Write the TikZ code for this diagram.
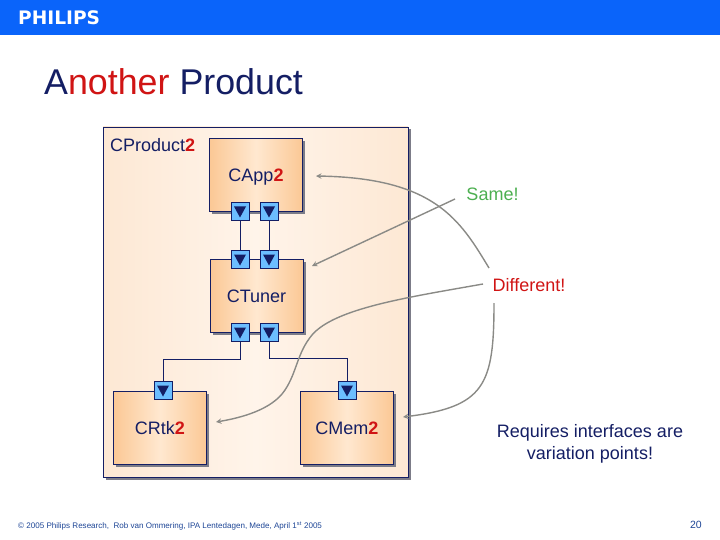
\documentclass[tikz,border=0pt]{standalone}
\usepackage{fontspec}
\setmainfont{Liberation Sans}
\newfontfamily\logofont{DejaVu Sans}
\usetikzlibrary{calc,shadows}

\definecolor{navy}{HTML}{141E64}
\definecolor{hilite}{HTML}{D01414}
\definecolor{okgreen}{HTML}{4CAF50}
\definecolor{barblue}{HTML}{0A64FA}
\definecolor{portblue}{HTML}{6CBEFF}
\definecolor{footblue}{HTML}{1E4696}
\definecolor{notegray}{HTML}{8A8A86}
\definecolor{shadowgray}{HTML}{7C7C88}
\definecolor{prodside}{HTML}{FDE8D4}
\definecolor{prodmid}{HTML}{FFF4EA}
\definecolor{compside}{HTML}{FBC895}
\definecolor{compmid}{HTML}{FFE8D0}

\tikzset{
    product/.style={draw=navy, line width=0.9pt, minimum width=305pt, minimum height=350pt,
        left color=prodside, right color=prodside, middle color=prodmid,
        drop shadow={shadow xshift=2.5pt, shadow yshift=-2.5pt, fill=shadowgray, opacity=1}},
    comp/.style={draw=navy, line width=0.9pt, minimum width=93pt, minimum height=73pt, text=navy,
        font=\fontsize{18}{22}\selectfont, text height=13pt, text depth=0pt,
        left color=compside, right color=compside, middle color=compmid,
        drop shadow={shadow xshift=2.5pt, shadow yshift=-2.5pt, fill=shadowgray, opacity=1}},
    port/.style={draw=navy, line width=0.8pt, fill=portblue, minimum size=18pt, inner sep=0pt,
        path picture={\fill[navy] ($(path picture bounding box.center)+(-6,-4.5)$) -- ++(12,0) -- ++(-6,11) -- cycle;}},
    wire/.style={draw=navy, line width=0.9pt},
    note/.style={-stealth, draw=notegray, line width=1.4pt},
    label/.style={font=\fontsize{18}{22}\selectfont, inner sep=0pt}
}

\newcommand{\two}{\textcolor{hilite}{\textbf{2}}}

\begin{document}
\begin{tikzpicture}[x=1pt, y=-1pt]
    \useasboundingbox (0,0) rectangle (720,540);
    \fill[barblue] (0,0) rectangle (720,35);
    \node[anchor=west, inner sep=0pt, text=white, font=\fontsize{18.6}{22}\selectfont\logofont\bfseries] (logo) at (18,17.5) {PHILIPS};
    \node[anchor=base west, inner sep=0pt, text=navy, font=\fontsize{35.8}{40}\selectfont] (title) at (44,95) {A\textcolor{hilite}{nother} Product};

    % components
    \node[product] (prod) at (255.5,302) {};
    \node[label, anchor=west, text=navy] (prodlabel) at (110,145) {CProduct\two};
    \node[comp] (app) at (256,175) {CApp\two};
    \node[comp] (tuner) at (256.5,296) {CTuner};
    \node[comp] (rtk) at (160,427.5) {CRtk\two};
    \node[comp] (mem) at (347,427.5) {CMem\two};

    % wires
    \node[port] (appa) at (240,211) {};
    \node[port] (appb) at (269,211) {};
    \node[port] (tunina) at (240,259) {};
    \node[port] (tuninb) at (269,259) {};
    \node[port] (tunouta) at (240,332) {};
    \node[port] (tunoutb) at (269,332) {};
    \node[port] (rtkin) at (163,390) {};
    \node[port] (memin) at (347,390) {};

    \draw[wire] (appa) -- (tunina);
    \draw[wire] (appb) -- (tuninb);
    \draw[wire] (tunouta.south) -- ++(0,18) -| (rtkin.north);
    \draw[wire] (tunoutb.south) -- ++(0,17) -| (memin.north);

    % notes
    \node[label, text=okgreen] (same) at (492.5,194.5) {Same!};
    \node[label, text=hilite] (diff) at (529,285) {Different!};
    \node[label, text=navy, align=center] (req) at (590,443.5) {Requires interfaces are\\variation points!};

    \coordinate (samefrom) at (455,199);
    \coordinate (sameto) at (312,266);
    \coordinate (diffa) at (489,268);
    \coordinate (diffb) at (483,284);
    \coordinate (diffc) at (494,303);
    \coordinate (appto) at (316,176);
    \coordinate (rtkto) at (216,422);
    \coordinate (memto) at (403,417);

    \draw[note] (samefrom) -- (sameto);
    \draw[note] (diffa) .. controls (460,220) and (435,178) .. (appto);
    \draw[note] (diffb) .. controls (410,297) and (335,308) .. (312,335)
        .. controls (297,353) and (297,372) .. (285,390)
        .. controls (272,410) and (240,418) .. (rtkto);
    \draw[note] (diffc) .. controls (494,385) and (485,407) .. (memto);

    % footer
    \node[anchor=west, inner sep=0pt, text=footblue, font=\fontsize{8.05}{10}\selectfont] (foot) at (18,526)
        {© 2005 Philips Research,\ \ Rob van Ommering, IPA Lentedagen, Mede, April 1\textsuperscript{st} 2005};
    \node[anchor=east, inner sep=0pt, text=footblue, font=\fontsize{10.5}{12}\selectfont] (page) at (702,525) {20};
\end{tikzpicture}
\end{document}
